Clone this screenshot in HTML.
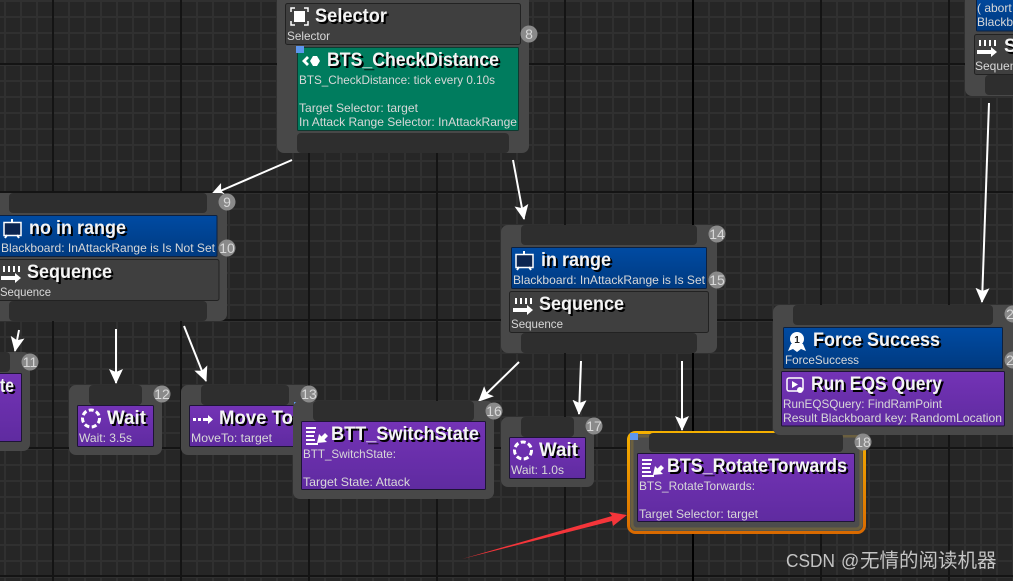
<!DOCTYPE html>
<html><head><meta charset="utf-8"><style>
html,body{margin:0;padding:0;background:#262626;width:1013px;height:581px;overflow:hidden}
svg{display:block}
.t{font:bold 19px "Liberation Sans",sans-serif;fill:#f4f4f4;filter:drop-shadow(2px 2px 0 #000)}
.d{font:12px "Liberation Sans",sans-serif;fill:#d8d8d8}
.b{font:14px "Liberation Sans",sans-serif;fill:#d8d8d8;text-anchor:middle}
.n{fill:#484848}.k{fill:#2e2e2e}
.g{fill:#3f3f3f;stroke:#222;stroke-width:1}
.p{fill:url(#pu);stroke:#1e1436;stroke-width:1}
.u{fill:url(#bl);stroke:#0d2140;stroke-width:1}
.c{fill:#8a8a8a}
.i{fill:#fff;stroke:none}
.l{fill:none;stroke:#fff;stroke-width:2}
.a{stroke:#fff;stroke-width:2}
</style></head><body>
<svg xmlns="http://www.w3.org/2000/svg" width="1013" height="581" viewBox="0 0 1013 581">
<defs>
<linearGradient id="pu" x1="0" y1="0" x2="0" y2="1"><stop offset="0" stop-color="#7433b6"/><stop offset="1" stop-color="#5f2ba0"/></linearGradient>
<linearGradient id="bl" x1="0" y1="0" x2="0" y2="1"><stop offset="0" stop-color="#004ba3"/><stop offset="1" stop-color="#003a80"/></linearGradient>
<linearGradient id="or" x1="0" y1="0" x2="0" y2="1"><stop offset="0" stop-color="#f5b000"/><stop offset="1" stop-color="#d96a00"/></linearGradient>
<pattern id="minor" width="16" height="16" patternUnits="userSpaceOnUse" x="4" y="0"><rect width="2" height="16" fill="#303030"/><rect width="16" height="2" fill="#303030"/></pattern>
<pattern id="major" width="128" height="128" patternUnits="userSpaceOnUse" x="52" y="63"><rect width="2" height="128" fill="#141414"/><rect width="128" height="2" fill="#141414"/></pattern>
<marker id="ah" viewBox="0 0 15 14" refX="14" refY="7" markerWidth="15" markerHeight="14" markerUnits="userSpaceOnUse" orient="auto"><path d="M0 0L15 7L0 14L3 7Z" fill="#fff"/></marker>
</defs>
<rect width="1013" height="581" fill="#262626"/>
<rect width="1013" height="581" fill="url(#minor)"/>
<rect width="1013" height="581" fill="url(#major)"/>
<rect x="692" width="2" height="581" fill="#000"/>

<!-- connectors -->
<g class="a">
<line x1="292" y1="160" x2="211" y2="195" marker-end="url(#ah)"/>
<line x1="513" y1="160" x2="524" y2="219" marker-end="url(#ah)"/>
<line x1="116" y1="329" x2="116" y2="383" marker-end="url(#ah)"/>
<line x1="184" y1="326" x2="206" y2="381" marker-end="url(#ah)"/>
<line x1="19" y1="330" x2="15" y2="351" marker-end="url(#ah)"/>
<line x1="519" y1="362" x2="479" y2="401" marker-end="url(#ah)"/>
<line x1="581" y1="361" x2="579" y2="414" marker-end="url(#ah)"/>
<line x1="682" y1="361" x2="682" y2="430" marker-end="url(#ah)"/>
<line x1="989" y1="103" x2="982" y2="302" marker-end="url(#ah)"/>
</g>

<!-- node 11 (cut off) -->
<rect class="n" x="-20" y="352" width="50" height="99" rx="7"/>
<rect class="k" x="-20" y="352" width="30" height="20" rx="4"/>
<rect class="p" x="-20" y="373.500" width="41.500" height="68" rx="1"/>
<text class="t" x="0" y="392" textLength="14" lengthAdjust="spacingAndGlyphs">te</text>

<!-- Selector -->
<rect class="n" x="277" y="-12" width="252" height="165" rx="7"/>
<rect class="g" x="285.500" y="3.500" width="235" height="41" rx="2"/>
<g fill="none" stroke="#fff" stroke-width="1.500"><path d="M291 12V8H295M304 8H308V12M308 21V25H304M295 25H291V21"/></g>
<rect class="i" x="294" y="11" width="11" height="11"/>
<text class="t" x="315" y="22" textLength="72" lengthAdjust="spacingAndGlyphs">Selector</text>
<text class="d" x="287" y="40" textLength="43" lengthAdjust="spacingAndGlyphs">Selector</text>
<rect x="297.500" y="47.500" width="221" height="83" rx="1" fill="#007c5e" stroke="#0e3a30"/>
<path class="i" d="M307 56L302 61L307 66L309 64L306 61L309 58ZM313 56H317L320 61L317 66H313L310 61Z"/>
<text class="t" x="327" y="66" textLength="172" lengthAdjust="spacingAndGlyphs">BTS_CheckDistance</text>
<text class="d" x="299" y="84" textLength="196" lengthAdjust="spacingAndGlyphs">BTS_CheckDistance: tick every 0.10s</text>
<text class="d" x="299" y="112" textLength="119" lengthAdjust="spacingAndGlyphs">Target Selector: target</text>
<text class="d" x="299" y="126" textLength="218" lengthAdjust="spacingAndGlyphs">In Attack Range Selector: InAttackRange</text>
<rect class="k" x="297" y="133" width="212" height="20" rx="4"/>
<rect x="296" y="46" width="8" height="7" fill="#5d96ee"/>

<!-- no in range -->
<rect class="n" x="-10" y="193" width="237" height="128" rx="7"/>
<rect class="k" x="9" y="193" width="198" height="20" rx="4"/>
<rect class="u" x="-5" y="215.500" width="222" height="41" rx="1"/>
<rect x="4" y="222.500" width="17" height="13" fill="#0c2550" stroke="#fff" stroke-width="1.500"/>
<path class="l" d="M12 219V222M7 235L5 238M17 235L19 238" stroke-width="1.500"/>
<text class="t" x="29" y="234" textLength="97" lengthAdjust="spacingAndGlyphs">no in range</text>
<text class="d" x="1" y="252" textLength="214" lengthAdjust="spacingAndGlyphs">Blackboard: InAttackRange is Is Not Set</text>
<rect class="g" x="-5" y="259.500" width="224" height="41" rx="2"/>
<path class="i" d="M3 266h2v6h-2zM8 266h2v6h-2zM13 266h2v6h-2zM18 266h2v6h-2zM1 276H15V273L21 278L15 283V280H1Z"/>
<text class="t" x="27" y="278" textLength="85" lengthAdjust="spacingAndGlyphs">Sequence</text>
<text class="d" x="0" y="296" textLength="51" lengthAdjust="spacingAndGlyphs">Sequence</text>
<rect class="k" x="9" y="301" width="198" height="20" rx="4"/>

<!-- Wait 3.5 -->
<rect class="n" x="69" y="385" width="93" height="70" rx="7"/>
<rect class="k" x="89" y="385" width="53" height="20" rx="4"/>
<rect class="p" x="77.500" y="405.500" width="76" height="41" rx="1"/>
<circle cx="91" cy="418.500" r="8.500" fill="none" stroke="#fff" stroke-width="3" stroke-dasharray="5 2.500"/>
<text class="t" x="107" y="424" textLength="39" lengthAdjust="spacingAndGlyphs">Wait</text>
<text class="d" x="79" y="442" textLength="53" lengthAdjust="spacingAndGlyphs">Wait: 3.5s</text>

<!-- Move To -->
<rect class="n" x="181" y="385" width="129" height="70" rx="7"/>
<rect class="k" x="201" y="385" width="88" height="20" rx="4"/>
<rect class="p" x="189.500" y="405.500" width="111" height="41" rx="1"/>
<path class="i" d="M193 418h3v3h-3zM198 418h3v3h-3zM203 418h5v-3l5 4.500l-5 4.500v-3h-5z"/>
<text class="t" x="219" y="424" textLength="74" lengthAdjust="spacingAndGlyphs">Move To</text>
<text class="d" x="191" y="442" textLength="81" lengthAdjust="spacingAndGlyphs">MoveTo: target</text>
<rect x="294" y="402" width="8" height="7" fill="#5d96ee"/>

<!-- SwitchState -->
<rect class="n" x="293" y="401" width="201" height="98" rx="7"/>
<rect class="k" x="313" y="401" width="161" height="20" rx="4"/>
<rect class="p" x="301.500" y="421.500" width="184" height="68" rx="1"/>
<path class="i" d="M306 427h10v2h-10zM306 431h9v2h-9zM306 435h8v2h-8zM306 439h9v2h-9zM306 443h12v2h-12zM317 443l2-9 2.500 2.500 3.500-3.500 3 3-3.500 3.500 2.500 2.500z"/>
<text class="t" x="331" y="440" textLength="148" lengthAdjust="spacingAndGlyphs">BTT_SwitchState</text>
<text class="d" x="303" y="458" textLength="93" lengthAdjust="spacingAndGlyphs">BTT_SwitchState:</text>
<text class="d" x="303" y="486" textLength="107" lengthAdjust="spacingAndGlyphs">Target State: Attack</text>

<!-- Wait 1.0 -->
<rect class="n" x="501" y="417" width="93" height="70" rx="7"/>
<rect class="k" x="521" y="417" width="53" height="20" rx="4"/>
<rect class="p" x="509.500" y="437.500" width="76" height="41" rx="1"/>
<circle cx="523" cy="450.500" r="8.500" fill="none" stroke="#fff" stroke-width="3" stroke-dasharray="5 2.500"/>
<text class="t" x="539" y="456" textLength="39" lengthAdjust="spacingAndGlyphs">Wait</text>
<text class="d" x="511" y="474" textLength="53" lengthAdjust="spacingAndGlyphs">Wait: 1.0s</text>

<!-- in range -->
<rect class="n" x="501" y="225" width="216" height="128" rx="7"/>
<rect class="k" x="521" y="225" width="176" height="20" rx="4"/>
<rect class="u" x="511.500" y="247.500" width="195" height="41" rx="1"/>
<rect x="516" y="254.500" width="17" height="13" fill="#0c2550" stroke="#fff" stroke-width="1.500"/>
<path class="l" d="M524 251V254M519 267L517 270M529 267L531 270" stroke-width="1.500"/>
<text class="t" x="541" y="266" textLength="70" lengthAdjust="spacingAndGlyphs">in range</text>
<text class="d" x="513" y="284" textLength="192" lengthAdjust="spacingAndGlyphs">Blackboard: InAttackRange is Is Set</text>
<rect class="g" x="509.500" y="291.500" width="199" height="41" rx="2"/>
<path class="i" d="M515 298h2v6h-2zM520 298h2v6h-2zM525 298h2v6h-2zM530 298h2v6h-2zM513 308H527V305L533 310L527 315V312H513Z"/>
<text class="t" x="539" y="310" textLength="85" lengthAdjust="spacingAndGlyphs">Sequence</text>
<text class="d" x="511" y="328" textLength="52" lengthAdjust="spacingAndGlyphs">Sequence</text>
<rect class="k" x="521" y="333" width="176" height="20" rx="4"/>

<!-- Rotate -->
<rect x="628.500" y="432.500" width="236" height="100" rx="7" fill="#4c4c4c" stroke="url(#or)" stroke-width="3"/>
<rect x="632" y="436" width="229" height="93" rx="5" fill="none" stroke="#6b5f3f" stroke-width="3"/>
<rect class="k" x="649" y="433" width="194" height="19" rx="4"/>
<rect class="p" x="637.500" y="453.500" width="217" height="68" rx="1"/>
<path class="i" d="M642 459h10v2h-10zM642 463h9v2h-9zM642 467h8v2h-8zM642 471h9v2h-9zM642 475h12v2h-12zM653 475l2-9 2.500 2.500 3.500-3.500 3 3-3.500 3.500 2.500 2.500z"/>
<text class="t" x="667" y="472" textLength="180" lengthAdjust="spacingAndGlyphs">BTS_RotateTorwards</text>
<text class="d" x="639" y="490" textLength="116" lengthAdjust="spacingAndGlyphs">BTS_RotateTorwards:</text>
<text class="d" x="639" y="518" textLength="119" lengthAdjust="spacingAndGlyphs">Target Selector: target</text>
<rect x="630" y="433" width="8" height="7" fill="#5d96ee"/>

<!-- Force Success -->
<rect class="n" x="773" y="305" width="260" height="130" rx="7"/>
<rect class="k" x="793" y="305" width="200" height="20" rx="4"/>
<rect class="u" x="783.500" y="327.500" width="219" height="41" rx="1"/>
<path class="i" d="M791 344L788 351L793 349L797 352L801 349L806 351L803 344Z"/>
<circle cx="797" cy="339" r="7" fill="#fff"/>
<text x="797" y="343" font-family="Liberation Sans" font-weight="bold" font-size="10" text-anchor="middle" fill="#222">1</text>
<text class="t" x="813" y="346" textLength="127" lengthAdjust="spacingAndGlyphs">Force Success</text>
<text class="d" x="785" y="364" textLength="74" lengthAdjust="spacingAndGlyphs">ForceSuccess</text>
<rect class="p" x="781.500" y="371.500" width="223" height="54.500" rx="1"/>
<rect x="787" y="378" width="16" height="13" rx="2" fill="none" stroke="#fff" stroke-width="1.500"/>
<path class="i" d="M792 381L798 384.500L792 388Z"/><circle class="i" cx="800" cy="390" r="3"/>
<text class="t" x="811" y="390" textLength="131" lengthAdjust="spacingAndGlyphs">Run EQS Query</text>
<text class="d" x="783" y="408" textLength="159" lengthAdjust="spacingAndGlyphs">RunEQSQuery: FindRamPoint</text>
<text class="d" x="783" y="422" textLength="219" lengthAdjust="spacingAndGlyphs">Result Blackboard key: RandomLocation</text>

<!-- top right node -->
<rect class="n" x="965" y="-10" width="70" height="106" rx="7"/>
<rect class="u" x="976.500" y="-8" width="50" height="39" rx="1"/>
<text class="d" x="977" y="12">( abort</text>
<text class="d" x="977" y="26">Blackboard</text>
<rect class="g" x="974.500" y="34.500" width="50" height="40" rx="2"/>
<path class="i" d="M979 40h2v6h-2zM984 40h2v6h-2zM989 40h2v6h-2zM994 40h2v6h-2zM977 50H991V47L997 52L991 57V54H977Z"/>
<text class="t" x="1004" y="52">S</text>
<text class="d" x="975" y="70">Sequence</text>
<rect class="k" x="985" y="75" width="40" height="20" rx="4"/>

<!-- badges -->
<g class="c">
<circle cx="529" cy="34" r="8.500"/><circle cx="227" cy="202" r="8.500"/><circle cx="227" cy="248" r="8.500"/>
<circle cx="30" cy="362" r="8.500"/><circle cx="162" cy="394" r="8.500"/><circle cx="309" cy="394" r="8.500"/>
<circle cx="717" cy="234" r="8.500"/><circle cx="717" cy="280" r="8.500"/><circle cx="494" cy="411" r="8.500"/>
<circle cx="594" cy="426" r="8.500"/><circle cx="863" cy="442" r="8.500"/><circle cx="1013" cy="314" r="8.500"/><circle cx="1013" cy="360" r="8.500"/>
</g>
<g class="b">
<text x="529" y="39">8</text><text x="227" y="207">9</text><text x="227" y="253">10</text>
<text x="30" y="367">11</text><text x="162" y="399">12</text><text x="309" y="399">13</text>
<text x="717" y="239">14</text><text x="717" y="285">15</text><text x="494" y="416">16</text>
<text x="594" y="431">17</text><text x="863" y="447">18</text><text x="1010" y="319">2</text><text x="1010" y="365">2</text>
</g>

<!-- red annotation arrow -->
<path d="M462 559L612 516L609 512L627 515L613 526L612 521Z" fill="#f5353a"/>

<!-- watermark -->
<text y="567" font-family="Liberation Sans,Noto Sans CJK SC,sans-serif" font-size="18" fill="#c4c4c4"><tspan x="786" textLength="49" lengthAdjust="spacingAndGlyphs">CSDN</tspan><tspan x="841">@</tspan><tspan x="860" font-size="19.500">无情的阅读机器</tspan></text>
</svg>
</body></html>
